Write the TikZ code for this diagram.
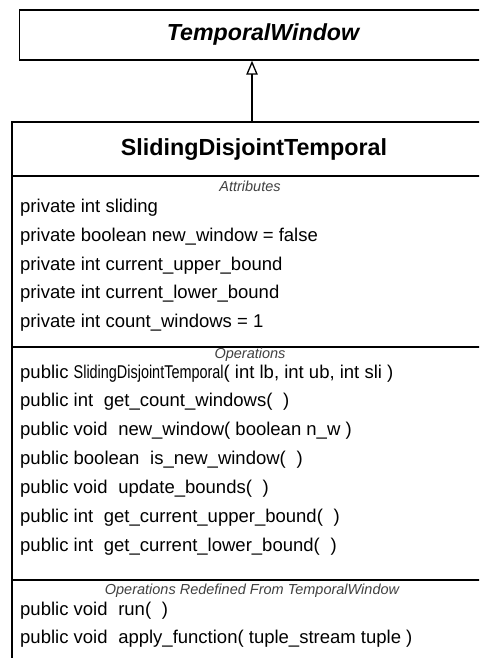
\documentclass[tikz,border=0pt]{standalone}
\usepackage{fontspec}
\setmainfont{Liberation Sans}
\usetikzlibrary{arrows.meta}

% wider gaps used by the member listing
\newcommand{\gap}{\ \hspace{0.3em}}
\newcommand{\noargs}{(\ \hspace{0.3em})}

\begin{document}
\begin{tikzpicture}[x=1pt, y=-1pt,
  classbox/.style={draw, line width=1.5pt, rectangle, inner sep=0pt},
  classname/.style={inner sep=0pt, font=\fontsize{23.3}{26}\selectfont\bfseries},
  member/.style={anchor=mid west, inner sep=0pt, font=\fontsize{18.5}{21}\selectfont},
  sectlabel/.style={anchor=mid, inner sep=0pt, text=black!75,
                    font=\fontsize{14.5}{17}\selectfont\itshape},
  divider/.style={line width=1.5pt},
  generalization/.style={line width=1.3pt,
                         -{Triangle[open, length=14pt, width=11.5pt, line width=1.3pt]}}]
\useasboundingbox (0,0) rectangle (479,658);
\clip (0,0) rectangle (479,658);

% superclass
\node[classbox, minimum width=487pt, minimum height=50pt,
      font=\fontsize{23.2}{26}\selectfont\bfseries\itshape] (tw) at (263,35) {TemporalWindow};

% subclass frame and its name compartment
\node[classbox, minimum width=484pt, minimum height=560pt] (sdt) at (254,402) {};
\node[classname] (sdtname) at (254,150) {SlidingDisjointTemporal};

% compartment dividers
\coordinate (divA) at (0,176);
\coordinate (divB) at (0,347);
\coordinate (divC) at (0,580);
\draw[divider] (sdt.west |- divA) -- (sdt.east |- divA);
\draw[divider] (sdt.west |- divB) -- (sdt.east |- divB);
\draw[divider] (sdt.west |- divC) -- (sdt.east |- divC);

% inheritance arrow
\coordinate (gen) at (252,0);
\draw[generalization] (sdt.north -| gen) -- (tw.south -| gen);

% attributes
\node[sectlabel] (lblattr) at (250,189) {Attributes};
\node[member] (a1) at (20,210) {private int sliding};
\node[member] (a2) at (20,239) {private boolean new\_window = false};
\node[member] (a3) at (20,267.5) {private int current\_upper\_bound};
\node[member] (a4) at (20,296) {private int current\_lower\_bound};
\node[member] (a5) at (20,325) {private int count\_windows = 1};

% operations
\node[sectlabel] (lblops) at (250,356) {Operations};
\node[member] (o1) at (20,376) {public \scalebox{0.78}[1]{SlidingDisjointTemporal}( int lb, int ub, int sli )};
\node[member] (o2) at (20,404) {public int\gap get\_count\_windows\noargs};
\node[member] (o3) at (20,433) {public void\gap new\_window( boolean n\_w )};
\node[member] (o4) at (20,462) {public boolean\gap is\_new\_window\noargs};
\node[member] (o5) at (20,491) {public void\gap update\_bounds\noargs};
\node[member] (o6) at (20,520) {public int\gap get\_current\_upper\_bound\noargs};
\node[member] (o7) at (20,549) {public int\gap get\_current\_lower\_bound\noargs};

% redefined operations
\node[sectlabel] (lblredef) at (252,592) {Operations Redefined From TemporalWindow};
\node[member] (r1) at (20,613) {public void\gap run\noargs};
\node[member] (r2) at (20,641) {public void\gap apply\_function( tuple\_stream tuple )};
\end{tikzpicture}
\end{document}
